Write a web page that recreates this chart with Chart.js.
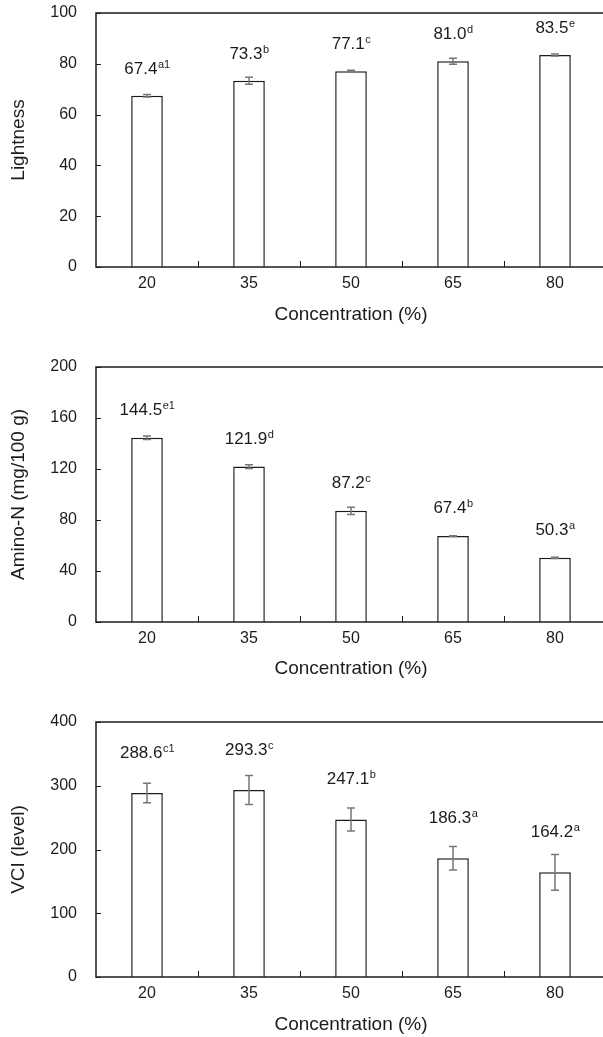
<!DOCTYPE html>
<html>
<head>
<meta charset="utf-8">
<script src="https://cdn.jsdelivr.net/npm/chart.js"></script>
<style>
  html, body { margin: 0; padding: 0; background: #fff; overflow: hidden; width: 603px; height: 1037px; }
  .panel { position: absolute; left: 0; width: 606px; }
</style>
</head>
<body>
<div class="panel" style="top:-9px"><canvas id="c1" width="606" height="349"></canvas></div>
<div class="panel" style="top:340px"><canvas id="c2" width="606" height="360"></canvas></div>
<div class="panel" style="top:700px"><canvas id="c3" width="606" height="337"></canvas></div>
<script>
const concentrations = ['20', '35', '50', '65', '80'];

const lightness = [67.4, 73.3, 77.1, 81.0, 83.5];
const lightnessSD = [0.5, 1.4, 0.4, 1.2, 0.4];
const lightnessLetters = ['a1', 'b', 'c', 'd', 'e'];

const aminoN = [144.5, 121.9, 87.2, 67.4, 50.3];
const aminoNSD = [1.4, 1.5, 2.8, 0.3, 0.4];
const aminoNLetters = ['e1', 'd', 'c', 'b', 'a'];

const vci = [288.6, 293.3, 247.1, 186.3, 164.2];
const vciSD = [15.4, 22.7, 18.0, 18.6, 28.0];
const vciLetters = ['c1', 'c', 'b', 'a', 'a'];

const FONT = '"Liberation Sans", Arial, sans-serif';
const INK = '#1c1c1c';

// frame, inward ticks, error bars and value labels
const barDecor = {
  id: 'barDecor',
  afterDatasetsDraw(chart, args, opts) {
    const { ctx, chartArea: a, scales: { x, y } } = chart;
    const meta = chart.getDatasetMeta(0);
    const vals = chart.data.datasets[0].data;
    ctx.save();

    ctx.strokeStyle = INK;
    ctx.lineWidth = 1.5;
    ctx.strokeRect(a.left, a.top, a.right - a.left, a.bottom - a.top);

    ctx.lineWidth = 1;
    y.ticks.forEach(t => {
      const py = Math.round(y.getPixelForValue(t.value)) + 0.5;
      ctx.beginPath();
      ctx.moveTo(a.left, py);
      ctx.lineTo(a.left + 5, py);
      ctx.stroke();
    });
    for (let i = 1; i < vals.length; i++) {
      const px = Math.round((x.getPixelForValue(i - 1) + x.getPixelForValue(i)) / 2) + 0.5;
      ctx.beginPath();
      ctx.moveTo(px, a.bottom);
      ctx.lineTo(px, a.bottom - 6);
      ctx.stroke();
    }

    // error bars
    ctx.strokeStyle = '#777';
    ctx.lineWidth = 1.5;
    opts.sd.forEach((sd, i) => {
      const px = meta.data[i].x;
      const hi = y.getPixelForValue(vals[i] + sd);
      const lo = y.getPixelForValue(vals[i] - sd);
      ctx.beginPath();
      ctx.moveTo(px, hi); ctx.lineTo(px, lo);
      ctx.moveTo(px - 4, hi); ctx.lineTo(px + 4, hi);
      ctx.moveTo(px - 4, lo); ctx.lineTo(px + 4, lo);
      ctx.stroke();
    });

    // labels with superscript letters
    ctx.fillStyle = INK;
    ctx.textBaseline = 'alphabetic';
    ctx.textAlign = 'left';
    vals.forEach((v, i) => {
      const main = v.toFixed(1);
      const sup = opts.letters[i];
      ctx.font = '17px ' + FONT;
      const w1 = ctx.measureText(main).width;
      ctx.font = '11px ' + FONT;
      const w2 = ctx.measureText(sup).width;
      const cx = meta.data[i].x;
      const base = y.getPixelForValue(v) - opts.gap + 6;
      const x0 = cx - (w1 + w2) / 2;
      ctx.font = '17px ' + FONT;
      ctx.fillText(main, x0, base);
      ctx.font = '11px ' + FONT;
      ctx.fillText(sup, x0 + w1 + 0.5, base - 6);
    });
    ctx.restore();
  }
};

function makeChart(id, values, sd, letters, yTitle, max, step, padTop, xHeight, titlePad, gap) {
  return new Chart(document.getElementById(id), {
    type: 'bar',
    data: {
      labels: concentrations,
      datasets: [{
        data: values,
        backgroundColor: '#ffffff',
        borderColor: INK,
        borderWidth: 1.5,
        barPercentage: 0.31,
        categoryPercentage: 1
      }]
    },
    options: {
      responsive: false,
      animation: false,
      devicePixelRatio: 1,
      layout: { padding: { top: padTop, left: 0, right: 0, bottom: 0 } },
      plugins: {
        legend: { display: false },
        tooltip: { enabled: false },
        barDecor: { sd, letters, gap }
      },
      scales: {
        x: {
          grid: { display: false },
          border: { display: false },
          ticks: { color: INK, font: { family: FONT, size: 16 }, padding: -1, maxRotation: 0 },
          title: {
            display: true, text: 'Concentration (%)', color: INK,
            font: { family: FONT, size: 19 }, padding: { top: 0, bottom: titlePad }
          },
          afterFit: s => { s.height = xHeight; }
        },
        y: {
          min: 0, max: max,
          grid: { display: false },
          border: { display: false },
          ticks: { stepSize: step, color: INK, font: { family: FONT, size: 16 }, padding: 11 },
          title: {
            display: true, text: yTitle, color: INK,
            font: { family: FONT, size: 19 }, padding: { top: 7, bottom: 0 }
          },
          afterFit: s => { s.width = 96; }
        }
      }
    },
    plugins: [barDecor]
  });
}

makeChart('c1', lightness, lightnessSD, lightnessLetters, 'Lightness', 100, 20, 22, 73, 14, 28);
makeChart('c2', aminoN, aminoNSD, aminoNLetters, 'Amino-N (mg/100 g)', 200, 40, 27, 78, 20, 29);
makeChart('c3', vci, vciSD, vciLetters, 'VCI (level)', 400, 100, 22, 60, 1, 41);
</script>
</body>
</html>
